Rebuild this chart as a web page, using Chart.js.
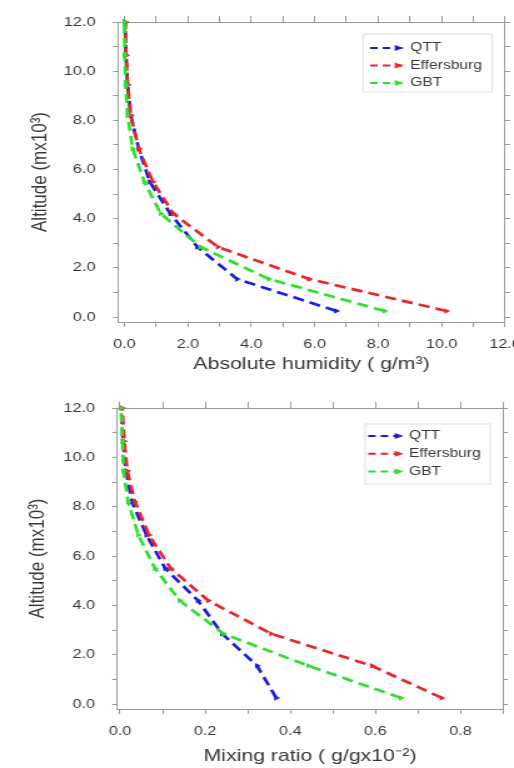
<!DOCTYPE html>
<html>
<head>
<meta charset="utf-8">
<script src="https://cdn.jsdelivr.net/npm/chart.js@4.4.0/dist/chart.umd.min.js"></script>
<style>
  html, body { margin: 0; padding: 0; background: #fff; }
  /* the source figure is stretched sideways, so the canvases are too */
  canvas { display: block; width: 514px; height: 384px; }
</style>
</head>
<body>
<canvas id="chartAbs" width="411" height="384" style="width:514px;height:384px"></canvas>
<canvas id="chartMix" width="411" height="384" style="width:514px;height:384px"></canvas>
<script>
// ---- data ----
const ALTITUDE = [0.25, 1.55, 2.85, 4.2, 5.5, 6.85, 8.2, 9.45, 10.65, 12.0];

const SITES = ["QTT", "Effersburg", "GBT"];
const COLORS = ["#1c1ce6", "#e8262b", "#2ee02e"];

// absolute humidity (g/m3)
const QTT_ABS = [6.68, 3.55, 2.3, 1.45, 0.8, 0.45, 0.2, 0.1, 0.05, 0.02];
const EFF_ABS = [10.15, 5.82, 2.95, 1.55, 0.9, 0.45, 0.2, 0.1, 0.05, 0.03];
const GBT_ABS = [8.2, 4.55, 2.4, 1.15, 0.63, 0.26, 0.1, 0.04, 0.01, 0.0];

// mixing ratio (g/g x10^-2)
const QTT_MIX = [0.367, 0.322, 0.24, 0.183, 0.106, 0.062, 0.028, 0.014, 0.007, 0.003];
const EFF_MIX = [0.756, 0.592, 0.355, 0.207, 0.119, 0.068, 0.035, 0.017, 0.01, 0.005];
const GBT_MIX = [0.66, 0.443, 0.243, 0.14, 0.082, 0.043, 0.019, 0.008, 0.006, 0.002];

const ALT_LABELS = [0, 2, 4, 6, 8, 10, 12];
const ABS_LABELS = [0, 2, 4, 6, 8, 10, 12];
const MIX_LABELS = [0, 0.2, 0.4, 0.6, 0.8];

const FONT = '"Liberation Sans", Arial, sans-serif';
const TEXT = "#383838";
const FRAME = "#9a9a9a";

const isMajor = (list, v) => list.some(t => Math.abs(t - v) < 1e-6);

// legend drawn in a box inside the plot, NCL style
const boxLegend = {
  id: "boxLegend",
  afterDatasetsDraw(chart, args, o) {
    const { ctx } = chart;
    ctx.save();
    ctx.strokeStyle = "#dedede";
    ctx.lineWidth = 1;
    ctx.strokeRect(o.x, o.y, o.w, o.h);
    chart.data.datasets.forEach((ds, i) => {
      const yy = o.first + i * o.gap;
      ctx.strokeStyle = ds.borderColor;
      ctx.lineWidth = 2;
      ctx.setLineDash([6, 4]);
      ctx.beginPath();
      ctx.moveTo(o.x0, yy);
      ctx.lineTo(o.x1, yy);
      ctx.stroke();
      ctx.setLineDash([]);
      ctx.fillStyle = ds.borderColor;
      ctx.beginPath();
      ctx.moveTo(o.x1 + 1, yy);
      ctx.lineTo(o.x1 - 6, yy - 3);
      ctx.lineTo(o.x1 - 6, yy + 3);
      ctx.closePath();
      ctx.fill();
      ctx.fillStyle = TEXT;
      ctx.font = "12.5px " + FONT;
      ctx.textBaseline = "middle";
      ctx.fillText(ds.label, o.tx, yy);
    });
    ctx.restore();
  }
};

function makeDatasets(series) {
  return series.map((vals, i) => ({
    label: SITES[i],
    data: vals.map((v, k) => ({ x: v, y: ALTITUDE[k] })),
    showLine: true,
    borderColor: COLORS[i],
    backgroundColor: COLORS[i],
    pointBackgroundColor: COLORS[i],
    borderWidth: 2.7,
    borderDash: [9, 5],
    pointStyle: "triangle",
    rotation: 90,
    pointRadius: 3.2,
    pointBorderWidth: 0,
    tension: 0,
    clip: false,
    order: 2 - i   // green ends up on top
  }));
}

function makeChart(id, series, o) {
  const tickFont = { family: FONT, size: 13 };
  const titleFont = { family: FONT, size: 17 };
  const frameGrid = (len) => ({ drawOnChartArea: false, drawTicks: true, tickLength: len, color: FRAME });
  return new Chart(document.getElementById(id), {
    type: "scatter",
    data: { datasets: makeDatasets(series) },
    options: {
      responsive: false,
      animation: false,
      events: [],
      layout: { padding: 0 },
      plugins: {
        legend: { display: false },
        tooltip: { enabled: false },
        boxLegend: o.legend
      },
      scales: {
        x: {
          type: "linear", position: "bottom", min: o.xMin, max: o.xMax,
          border: { display: true, color: FRAME },
          grid: frameGrid(5),
          ticks: {
            stepSize: o.xStep, includeBounds: false, autoSkip: false, maxRotation: 0,
            padding: 10, color: TEXT, font: tickFont,
            callback: v => isMajor(o.xLabels, v) ? v.toFixed(1) : ""
          },
          title: { display: true, text: o.xTitle, color: TEXT, font: titleFont, padding: { top: 0, bottom: o.xTitlePad } },
          afterFit: s => { s.height = o.bottomH; s.paddingLeft = 0; s.paddingRight = 0; }
        },
        x2: {
          type: "linear", position: "top", min: o.xMin, max: o.xMax,
          border: { display: true, color: FRAME },
          grid: frameGrid(6),
          ticks: { display: false, stepSize: o.xStep, includeBounds: false, autoSkip: false },
          afterFit: s => { s.height = o.topH; s.paddingLeft = 0; s.paddingRight = 0; }
        },
        y: {
          type: "linear", position: "left", min: -0.2, max: 12,
          border: { display: true, color: FRAME },
          grid: frameGrid(4),
          ticks: {
            stepSize: 1, includeBounds: false, autoSkip: false,
            padding: o.yPad, color: TEXT, font: tickFont,
            callback: v => isMajor(ALT_LABELS, v) ? v.toFixed(1) : ""
          },
          title: { display: true, text: "Altitude (mx10³)", color: TEXT, font: titleFont, padding: { top: o.yTitlePad, bottom: 0 } },
          afterFit: s => { s.width = o.leftW; s.paddingTop = 0; s.paddingBottom = 0; }
        },
        y2: {
          type: "linear", position: "right", min: -0.2, max: 12,
          border: { display: true, color: FRAME },
          grid: frameGrid(4),
          ticks: { display: false, stepSize: 1, includeBounds: false, autoSkip: false },
          afterFit: s => { s.width = o.rightW; s.paddingTop = 0; s.paddingBottom = 0; }
        }
      }
    },
    plugins: [boxLegend]
  });
}

makeChart("chartAbs", [QTT_ABS, EFF_ABS, GBT_ABS], {
  xMin: -0.2, xMax: 12, xStep: 1, xLabels: ABS_LABELS,
  xTitle: "Absolute humidity ( g/m³)",
  leftW: 94.4, rightW: 7.2, topH: 22, bottomH: 62,
  xTitlePad: 9, yPad: 14, yTitlePad: 22.6,
  legend: { x: 290.3, y: 34, w: 103.3, h: 58, first: 48, gap: 17.5, x0: 296, x1: 321.6, tx: 328 }
});

makeChart("chartMix", [QTT_MIX, EFF_MIX, GBT_MIX], {
  xMin: -0.007, xMax: 0.9, xStep: 0.1, xLabels: MIX_LABELS,
  xTitle: "Mixing ratio ( g/gx10⁻²)",
  leftW: 93.6, rightW: 8.8, topH: 24, bottomH: 59,
  xTitlePad: 1.5, yPad: 13.6, yTitlePad: 20.2,
  legend: { x: 292, y: 40, w: 100, h: 60, first: 52, gap: 17.7, x0: 294.4, x1: 321.6, tx: 327 }
});
</script>
</body>
</html>
